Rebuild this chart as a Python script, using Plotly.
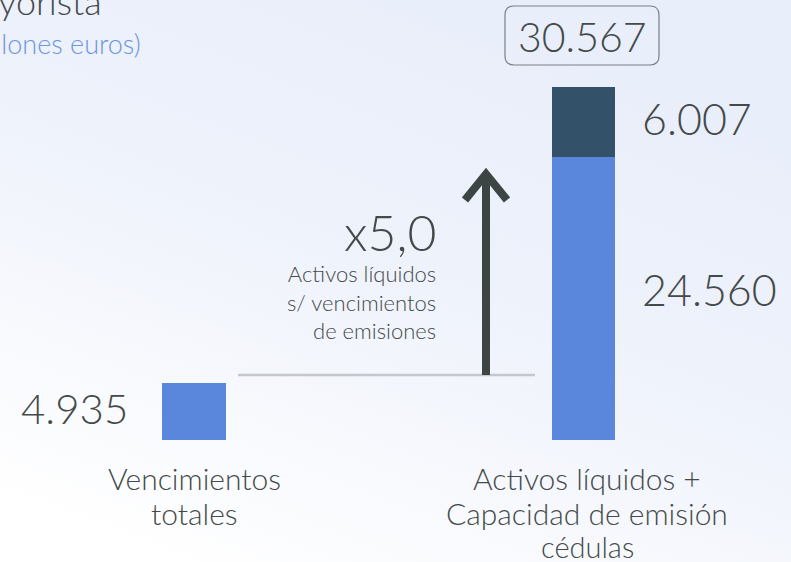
import base64
import plotly.graph_objects as go

# ---- data ----
category_lines = [["Vencimientos", "totales"],
                  ["Activos líquidos +", "Capacidad de emisión", "cédulas"]]
vencimientos = [4935]
activos_liquidos = [24560]
capacidad_cedulas = [6007]
total_label = "30.567"
value_labels = ["4.935", "24.560", "6.007"]
ratio_label = "x5,0"
ratio_lines = ["Activos líquidos", "s/ vencimientos", "de emisiones"]
title_text = "Liquidez mayorista"
subtitle_text = "(millones euros)"

W, H = 791, 562
# pixel geometry of the axes (margins are zero)
X0_PX, X_UNIT_PX = 194.0, 389.5      # category 0 centre, px per category
Y0_PX, Y_UNIT = 440.0, 86.7          # baseline px, value units per px

def px_x(p):
    return (p - X0_PX) / X_UNIT_PX

def px_y(p):
    return (Y0_PX - p) * Y_UNIT

FONT = "Lato"
GREY = "#444a4a"
BLUE = "#5a86db"
DARK = "#33526a"

fig = go.Figure()
fig.add_trace(go.Bar(x=[0], y=vencimientos, width=0.164, marker_color=BLUE,
                     marker_line_width=0, showlegend=False))
fig.add_trace(go.Bar(x=[1], y=activos_liquidos, width=0.164, marker_color=BLUE,
                     marker_line_width=0, showlegend=False))
fig.add_trace(go.Bar(x=[1], y=capacidad_cedulas, width=0.164, marker_color=DARK,
                     marker_line_width=0, showlegend=False))

ann = []
def txt(x, y, text, size, anchor="center", color=GREY, weight=300, xref="x", yref="y",
        align="center"):
    ann.append(dict(x=x, y=y, text=text, showarrow=False, xanchor=anchor, yanchor="middle",
                    xref=xref, yref=yref, align=align,
                    font=dict(family=FONT, size=size, color=color, weight=weight)))

# category labels (one annotation per line to control line spacing)
cat_centres = [0, px_x(587)]
line_y = [478, 513, 546]
for ci, lines in enumerate(category_lines):
    for li, line in enumerate(lines):
        txt(cat_centres[ci], px_y(line_y[li]), line, 30 if li < 2 else 29)

# value labels
txt(px_x(130), vencimientos[0] / 2 + 350, value_labels[0], 42, "right")
txt(px_x(640), activos_liquidos[0] / 2 + 800, value_labels[1], 43, "left")
txt(px_x(640), activos_liquidos[0] + capacidad_cedulas[0] / 2 + 280, value_labels[2], 43, "left")
txt(px_x(582), px_y(36), total_label, 41)

# ratio
txt(px_x(438), px_y(232), ratio_label, 50, "right")
txt(px_x(438), px_y(302), "<br>".join(ratio_lines), 22, "right", align="right")

# title (cropped at left/top in the reference)
txt(104 / W, 1 - 1 / H, title_text, 36, "right", xref="paper", yref="paper")
txt(143 / W, 1 - 43 / H, subtitle_text, 27, "right", color="#6d96e0",
    xref="paper", yref="paper")

shapes = []
# baseline guide
shapes.append(dict(type="line", x0=px_x(238), x1=px_x(535), y0=px_y(375), y1=px_y(375),
                   line=dict(color="#c4c7cc", width=2.5), layer="below"))
# arrow shaft and head
ax = px_x(486)
shapes.append(dict(type="line", x0=ax, x1=ax, y0=px_y(375), y1=px_y(176),
                   line=dict(color="#3d4444", width=8)))
shapes.append(dict(type="path",
                   path=f"M {px_x(465)},{px_y(200)} L {ax},{px_y(174)} L {px_x(507)},{px_y(200)}",
                   line=dict(color="#3d4444", width=8)))
# rounded box around total
l, r, t, b, rad = 505, 659, 6, 65, 9
p = (f"M {px_x(l+rad)},{px_y(t)} L {px_x(r-rad)},{px_y(t)} "
     f"Q {px_x(r)},{px_y(t)} {px_x(r)},{px_y(t+rad)} "
     f"L {px_x(r)},{px_y(b-rad)} Q {px_x(r)},{px_y(b)} {px_x(r-rad)},{px_y(b)} "
     f"L {px_x(l+rad)},{px_y(b)} Q {px_x(l)},{px_y(b)} {px_x(l)},{px_y(b-rad)} "
     f"L {px_x(l)},{px_y(t+rad)} Q {px_x(l)},{px_y(t)} {px_x(l+rad)},{px_y(t)} Z")
shapes.append(dict(type="path", path=p, line=dict(color="#7a7f85", width=1.2)))

# background gradient
svg = ('<svg xmlns="http://www.w3.org/2000/svg" width="791" height="562" preserveAspectRatio="none">'
       '<defs><linearGradient id="g" x1="0.75" y1="0" x2="0.2" y2="1">'
       '<stop offset="0" stop-color="#e8eefa"/><stop offset="0.45" stop-color="#eef2fb"/>'
       '<stop offset="1" stop-color="#ffffff"/></linearGradient></defs>'
       '<rect width="791" height="562" fill="url(#g)"/></svg>')
src = "data:image/svg+xml;base64," + base64.b64encode(svg.encode()).decode()

fig.update_layout(
    width=W, height=H, margin=dict(l=0, r=0, t=0, b=0),
    paper_bgcolor="white", plot_bgcolor="rgba(0,0,0,0)",
    barmode="stack", showlegend=False,
    xaxis=dict(range=[px_x(0), px_x(W)], visible=False, fixedrange=True),
    yaxis=dict(range=[px_y(H), px_y(0)], visible=False, fixedrange=True),
    annotations=ann, shapes=shapes,
    images=[dict(source=src, xref="paper", yref="paper", x=0, y=1, sizex=1, sizey=1,
                 sizing="stretch", layer="below", xanchor="left", yanchor="top")],
)

fig.write_html("out.html", config={"displayModeBar": False},
               post_script="document.body.style.margin='0';document.body.style.overflow='hidden';")
